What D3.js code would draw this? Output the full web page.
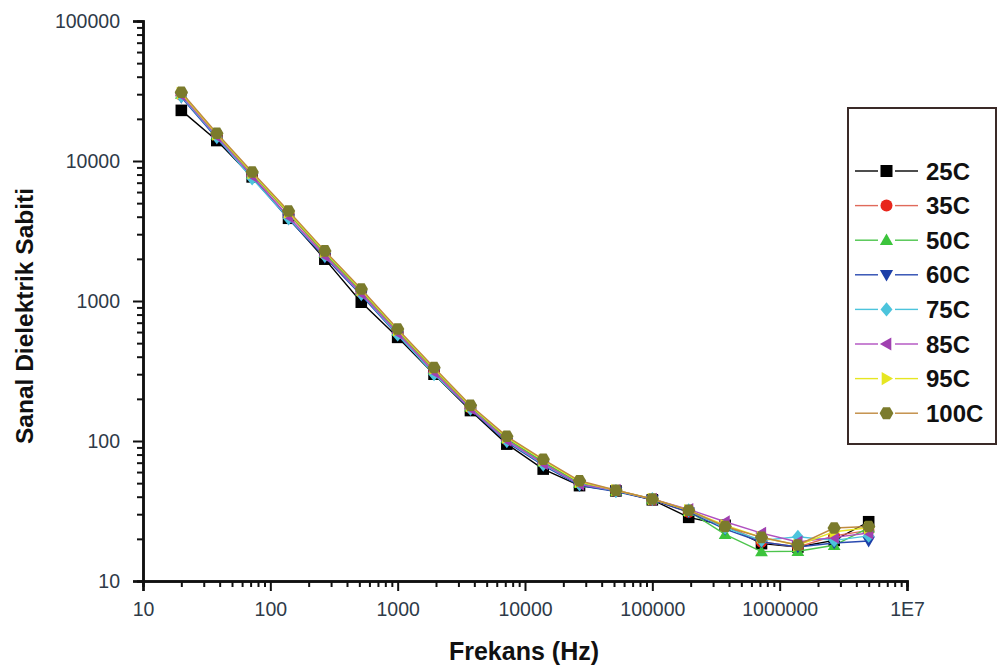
<!DOCTYPE html>
<html>
<head>
<meta charset="utf-8">
<script src="https://cdn.jsdelivr.net/npm/d3@7"></script>
<style>
  html, body { margin: 0; padding: 0; background: #fff; }
  svg { display: block; font-family: Arial, "Liberation Sans", Helvetica, sans-serif; }
</style>
</head>
<body>
<svg id="chart" width="1001" height="669"></svg>
<script>
// ---------- data ----------
const frequencies = [20, 38, 72, 139, 268, 518, 1000, 1930, 3730, 7200, 13900, 26800, 51800, 100000, 193000, 373000, 720000, 1390000, 2680000, 5000000];
const seriesNames = ["25C", "35C", "50C", "60C", "75C", "85C", "95C", "100C"];
const s25C  = [23000, 14000, 7700, 3900, 1990, 980, 550, 300, 165, 95, 63, 48, 44, 38, 28.5, 25, 18.5, 17.5, 19.5, 26.5];
const s35C  = [29500, 15200, 8000, 4200, 2150, 1150, 600, 320, 172, 102, 70, 50, 44, 38, 31, 25, 19, 17.5, 21, 23];
const s50C  = [30000, 15300, 8100, 4250, 2200, 1180, 610, 325, 175, 104, 71, 50, 44, 38.5, 31.5, 21.5, 16.2, 16.3, 18, 24];
const s60C  = [28500, 14500, 7600, 3850, 2050, 1100, 570, 305, 168, 98, 67, 48, 43.5, 38, 31, 23.5, 19, 17.5, 18.7, 19.3];
const s75C  = [29000, 14800, 7500, 3900, 2100, 1120, 575, 300, 170, 100, 68, 49, 44, 38.5, 32, 24, 19.5, 20.7, 19.5, 21];
const s85C  = [29500, 15000, 7800, 4000, 2100, 1130, 590, 310, 170, 101, 69, 49, 44.5, 38.5, 32.5, 26.5, 22, 19, 20.5, 22];
const s95C  = [30500, 15500, 8200, 4300, 2250, 1200, 620, 330, 178, 106, 73, 51, 44.5, 38.5, 32, 25, 20.5, 18, 22.5, 24];
const s100C = [31000, 15800, 8350, 4400, 2280, 1220, 630, 335, 180, 108, 74, 52, 44.5, 38.5, 32, 24.5, 20.5, 18.1, 23.9, 24.5];
const seriesValues = [s25C, s35C, s50C, s60C, s75C, s85C, s95C, s100C];
const xTickValues = [10, 100, 1000, 10000, 100000, 1000000, 10000000];
const xTickLabels = ["10", "100", "1000", "10000", "100000", "1000000", "1E7"];
const yTickValues = [10, 100, 1000, 10000, 100000];
const yTickLabels = ["10", "100", "1000", "10000", "100000"];
const xTitle = "Frekans (Hz)";
const yTitle = "Sanal Dielektrik Sabiti";

// ---------- styles ----------
const markerColors = ["#000000", "#e8261c", "#3cc43c", "#1c3fa8", "#4cc4dc", "#a040b0", "#e6e622", "#7b7b2c"];
const lineColors   = ["#000000", "#e06a5a", "#4cc44c", "#2a4ab0", "#4cc4dc", "#b050c0", "#e6e622", "#c08a40"];
const markerShapes = ["square", "circle", "up", "down", "diamond", "left", "right", "hex"];

const svg = d3.select("#chart");
const x = d3.scaleLog().domain([10, 1e7]).range([143, 907]);
const y = d3.scaleLog().domain([10, 100000]).range([581, 21]);

function minorTicks(lo, hi) {
  const out = [];
  for (let d = lo; d < hi; d *= 10) for (let k = 2; k <= 9; k++) out.push(d * k);
  return out;
}

// axes
const xMajor = d3.axisBottom(x).tickValues(xTickValues).tickFormat((d, i) => xTickLabels[i]).tickSize(10).tickPadding(11);
const xMinor = d3.axisBottom(x).tickValues(minorTicks(10, 1e7)).tickFormat("").tickSize(6);
const yMajor = d3.axisLeft(y).tickValues(yTickValues).tickFormat((d, i) => yTickLabels[i]).tickSize(10).tickPadding(13);
const yMinor = d3.axisLeft(y).tickValues(minorTicks(10, 100000)).tickFormat("").tickSize(6);

function styleAxis(g) {
  g.select(".domain").attr("stroke", "#111").attr("stroke-width", 2.5);
  g.selectAll(".tick line").attr("stroke", "#111").attr("stroke-width", 2);
  g.selectAll(".tick text").attr("fill", "#2e3a48").style("font-size", "19.5px").style("font-family", "Arial, 'Liberation Sans', sans-serif");
}
svg.append("g").attr("transform", "translate(0,581)").call(xMinor).call(styleAxis);
svg.append("g").attr("transform", "translate(0,581)").call(xMajor).call(styleAxis);
svg.append("g").attr("transform", "translate(143,0)").call(yMinor).call(styleAxis);
svg.append("g").attr("transform", "translate(143,0)").call(yMajor).call(styleAxis);

// titles
svg.append("text").attr("x", 524).attr("y", 660).attr("text-anchor", "middle")
  .style("font-size", "25px").style("font-weight", "bold").attr("fill", "#111").text(xTitle);
svg.append("text").attr("transform", "translate(33,316) rotate(-90)").attr("text-anchor", "middle")
  .style("font-size", "24.5px").style("font-weight", "bold").attr("fill", "#111").text(yTitle);

// markers
function markerPath(shape, r) {
  switch (shape) {
    case "square": return `M${-r},${-r}H${r}V${r}H${-r}Z`;
    case "circle": return d3.symbol(d3.symbolCircle, Math.PI * r * r)();
    case "up": return `M0,${-r*1.1}L${r*1.1},${r*0.8}L${-r*1.1},${r*0.8}Z`;
    case "down": return `M0,${r*1.1}L${r*1.1},${-r*0.8}L${-r*1.1},${-r*0.8}Z`;
    case "diamond": return `M0,${-r*1.2}L${r*1.0},0L0,${r*1.2}L${-r*1.0},0Z`;
    case "left": return `M${-r*1.1},0L${r*0.8},${-r*1.1}L${r*0.8},${r*1.1}Z`;
    case "right": return `M${r*1.1},0L${-r*0.8},${-r*1.1}L${-r*0.8},${r*1.1}Z`;
    case "hex": {
      const pts = d3.range(6).map(i => { const a = Math.PI / 3 * i; return [r * 1.15 * Math.cos(a), r * 1.15 * Math.sin(a)]; });
      return "M" + pts.map(p => p.join(",")).join("L") + "Z";
    }
  }
}

const line = d3.line().x(d => x(d[0])).y(d => y(d[1]));
const plot = svg.append("g");
seriesValues.forEach((vals, si) => {
  const pts = frequencies.map((f, i) => [f, vals[i]]);
  const g = plot.append("g");
  g.append("path").datum(pts).attr("d", line).attr("fill", "none")
    .attr("stroke", lineColors[si]).attr("stroke-width", 1.4);
  g.selectAll("path.m").data(pts).enter().append("path").attr("class", "m")
    .attr("transform", d => `translate(${x(d[0])},${y(d[1])})`)
    .attr("d", markerPath(markerShapes[si], 5.8))
    .attr("fill", markerColors[si]);
});

// legend
const legend = svg.append("g");
legend.append("rect").attr("x", 848).attr("y", 108).attr("width", 148).attr("height", 336)
  .attr("fill", "#fff").attr("stroke", "#3a2a28").attr("stroke-width", 2);
seriesNames.forEach((name, si) => {
  const ly = 171 + si * 34.6;
  const g = legend.append("g");
  g.append("line").attr("x1", 855).attr("x2", 878).attr("y1", ly).attr("y2", ly).attr("stroke", lineColors[si]).attr("stroke-width", 1.4);
  g.append("line").attr("x1", 895).attr("x2", 918).attr("y1", ly).attr("y2", ly).attr("stroke", lineColors[si]).attr("stroke-width", 1.4);
  g.append("path").attr("transform", `translate(886.5,${ly})`).attr("d", markerPath(markerShapes[si], 6)).attr("fill", markerColors[si]);
  g.append("text").attr("x", 926).attr("y", ly + 8.5).style("font-size", "24px").style("font-weight", "bold")
    .attr("fill", "#111").text(name);
});
</script>
</body>
</html>
